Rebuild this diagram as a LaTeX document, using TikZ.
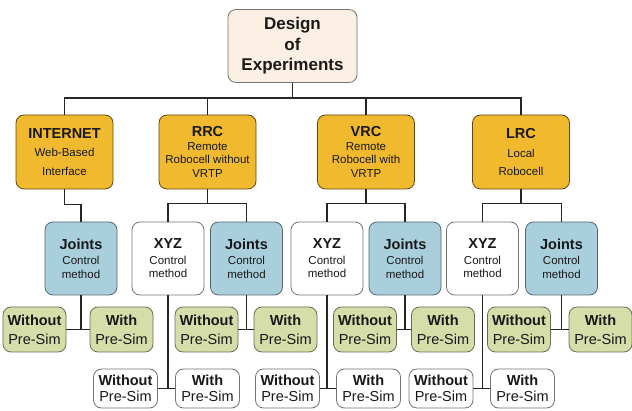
\documentclass[tikz,border=0pt]{standalone}
\usepackage{fontspec}
\setmainfont{Liberation Sans}
\definecolor{peach}{HTML}{FCF0E4}
\definecolor{gold}{HTML}{F1B92E}
\definecolor{skyblue}{HTML}{A9CFDD}
\definecolor{sage}{HTML}{D5DDA9}
\newcommand\boxhead[1]{{\fontsize{14.5}{16}\selectfont\bfseries #1}}
\begin{document}
\begin{tikzpicture}[x=1pt,y=-1pt,
    box/.style={draw=black!55, line width=0.8pt, rounded corners=8pt, align=center,
      inner sep=1pt, text=black!90, font=\fontsize{11.5}{13.5}\selectfont},
    topbox/.style={box, fill=peach, minimum width=129pt, minimum height=73pt,
      font=\fontsize{17}{20.5}\selectfont\bfseries},
    labbox/.style={box, fill=gold, draw=black!60!gold, minimum width=97pt, minimum height=74pt},
    jointbox/.style={box, fill=skyblue, draw=black!50!skyblue, minimum width=72pt, minimum height=73pt},
    xyzbox/.style={box, fill=white, minimum width=72pt, minimum height=73pt},
    simbox/.style={box, fill=sage, draw=black!50!sage, minimum width=63pt, minimum height=45pt,
      font=\fontsize{14.5}{19}\selectfont},
    lowbox/.style={box, fill=white, minimum width=64pt, minimum height=39pt,
      font=\fontsize{14.5}{16.5}\selectfont},
    link/.style={draw=black!85, line width=1.7pt}]

    \useasboundingbox (0,0) rectangle (632,411);

    % Top
    \node[topbox] (doe) at (292.5,46) {Design\\ of\\ Experiments};

    % Labs
    \node[labbox] (inet) at (64.5,152) {\boxhead{INTERNET}\\[5pt] Web-Based\\[5pt] Interface};
    \node[labbox] (rrc) at (207.5,152) {\boxhead{RRC}\\[0pt] Remote\\ Robocell without\\ VRTP};
    \node[labbox] (vrc) at (366,152) {\boxhead{VRC}\\[0pt] Remote\\ Robocell with\\ VRTP};
    \node[labbox] (lrc) at (521,152) {\boxhead{LRC}\\[5pt] Local\\[5pt] Robocell};

    % Control methods
    \node[jointbox] (ij) at (81,258.5) {\boxhead{Joints}\\[2pt] Control\\ method};
    \node[xyzbox] (rx) at (168,258.5) {\boxhead{XYZ}\\[2pt] Control\\ method};
    \node[jointbox] (rj) at (246.5,258.5) {\boxhead{Joints}\\[2pt] Control\\ method};
    \node[xyzbox] (vx) at (327,258.5) {\boxhead{XYZ}\\[2pt] Control\\ method};
    \node[jointbox] (vj) at (405,258.5) {\boxhead{Joints}\\[2pt] Control\\ method};
    \node[xyzbox] (lx) at (482.5,258.5) {\boxhead{XYZ}\\[2pt] Control\\ method};
    \node[jointbox] (lj) at (561.5,258.5) {\boxhead{Joints}\\[2pt] Control\\ method};

    % Pre-Sim under Joints
    \node[simbox] (iwo) at (34.5,329.5) {\textbf{Without}\\ Pre-Sim};
    \node[simbox] (iw) at (121.5,329.5) {\textbf{With}\\ Pre-Sim};
    \node[simbox] (rwo) at (206.5,329.5) {\textbf{Without}\\ Pre-Sim};
    \node[simbox] (rw) at (285.5,329.5) {\textbf{With}\\ Pre-Sim};
    \node[simbox] (vwo) at (365,329.5) {\textbf{Without}\\ Pre-Sim};
    \node[simbox] (vw) at (443,329.5) {\textbf{With}\\ Pre-Sim};
    \node[simbox] (lwo) at (519,329.5) {\textbf{Without}\\ Pre-Sim};
    \node[simbox] (lw) at (600.5,329.5) {\textbf{With}\\ Pre-Sim};

    % Pre-Sim under XYZ
    \node[lowbox] (rxwo) at (125.5,388.5) {\textbf{Without}\\ Pre-Sim};
    \node[lowbox] (rxw) at (207.5,388.5) {\textbf{With}\\ Pre-Sim};
    \node[lowbox] (vxwo) at (287.5,388.5) {\textbf{Without}\\ Pre-Sim};
    \node[lowbox] (vxw) at (368.5,388.5) {\textbf{With}\\ Pre-Sim};
    \node[lowbox] (lxwo) at (441,388.5) {\textbf{Without}\\ Pre-Sim};
    \node[lowbox] (lxw) at (522.5,388.5) {\textbf{With}\\ Pre-Sim};

    % Links
    \draw[link] (doe.south) -- ++(0,15) -| (inet.north);
    \draw[link] (doe.south) -- ++(0,15) -| (rrc.north);
    \draw[link] (doe.south) -- ++(0,15) -| (vrc.north);
    \draw[link] (doe.south) -- ++(0,15) -| (lrc.north);

    \draw[link] (inet.south) -- ++(0,15) -| (ij.north);
    \draw[link] (rrc.south) -- ++(0,14) -| (rx.north);
    \draw[link] (rrc.south) -- ++(0,14) -| (rj.north);
    \draw[link] (vrc.south) -- ++(0,14) -| (vx.north);
    \draw[link] (vrc.south) -- ++(0,14) -| (vj.north);
    \draw[link] (lrc.south) -- ++(0,14) -| (lx.north);
    \draw[link] (lrc.south) -- ++(0,14) -| (lj.north);

    \draw[link] (ij.south) |- (iwo.east);
    \draw[link] (ij.south) |- (iw.west);
    \draw[link] (rj.south) |- (rwo.east);
    \draw[link] (rj.south) |- (rw.west);
    \draw[link] (vj.south) |- (vwo.east);
    \draw[link] (vj.south) |- (vw.west);
    \draw[link] (lj.south) |- (lwo.east);
    \draw[link] (lj.south) |- (lw.west);

    \draw[link] (rx.south) |- (rxwo.east);
    \draw[link] (rx.south) |- (rxw.west);
    \draw[link] (vx.south) |- (vxwo.east);
    \draw[link] (vx.south) |- (vxw.west);
    \draw[link] (lx.south) |- (lxwo.east);
    \draw[link] (lx.south) |- (lxw.west);

\end{tikzpicture}
\end{document}
